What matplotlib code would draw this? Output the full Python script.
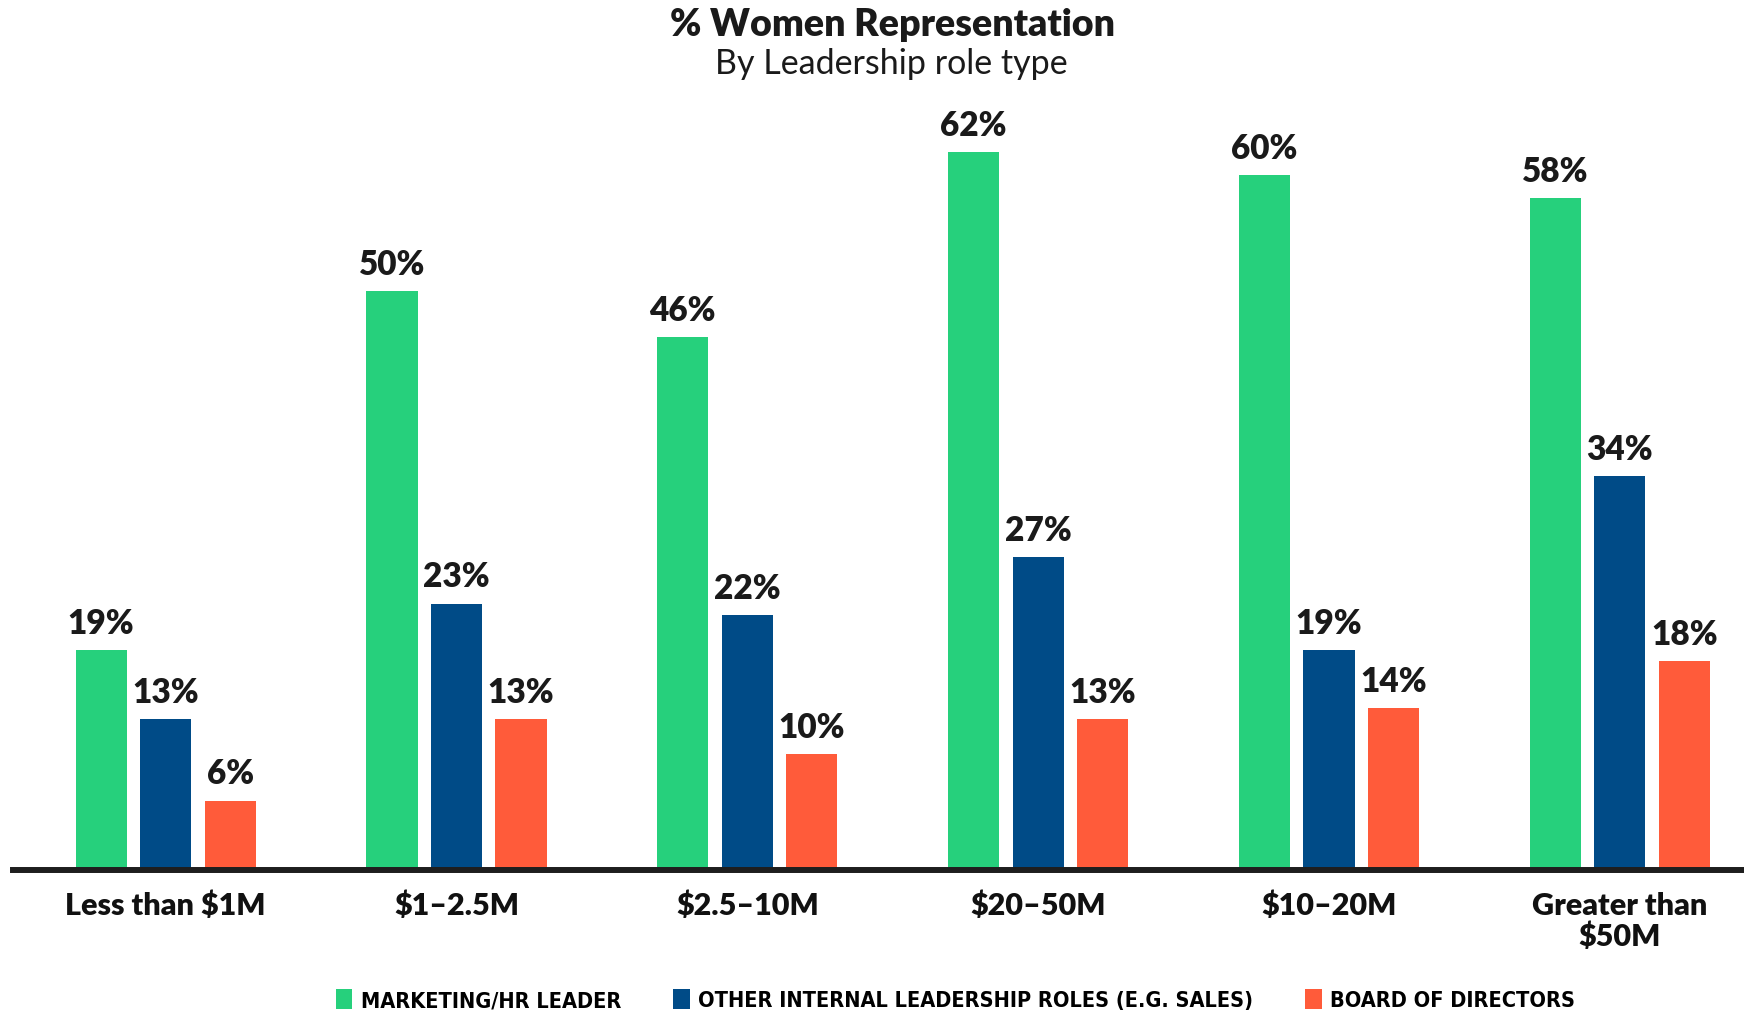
import numpy as np
import matplotlib
matplotlib.use('Agg')
import matplotlib.pyplot as plt

categories = ['Less than $1M', '$1\u20132.5M', '$2.5\u201310M', '$20\u201350M', '$10\u201320M', 'Greater than\n$50M']
series_names = ['MARKETING/HR LEADER', 'OTHER INTERNAL LEADERSHIP ROLES (E.G. SALES)', 'BOARD OF DIRECTORS']
marketing_hr = [19, 50, 46, 62, 60, 58]
other_internal = [13, 23, 22, 27, 19, 34]
board = [6, 13, 10, 13, 14, 18]

colors = ['#26D07C', '#004B87', '#FF5B3A']
main_font = ['Lato', 'DejaVu Sans']

fig = plt.figure(figsize=(17.44, 10.12), dpi=100)
ax = fig.add_axes([13 / 1744, 0.1393, 1 - 13 / 1744, 0.8014])

x = np.arange(len(categories))
pitch = 0.222
width = 0.176
bars = []
for i, (vals, col, name) in enumerate(zip([marketing_hr, other_internal, board], colors, series_names)):
    b = ax.bar(x + (i - 1) * pitch, vals, width, color=col, label=name, zorder=2)
    bars.append(b)
    for rect, v in zip(b, vals):
        ax.annotate('%d%%' % v, (rect.get_x() + rect.get_width() / 2, v),
                    xytext=(0, 8), textcoords='offset points', ha='center', va='bottom',
                    fontsize=24, fontweight='heavy', family=main_font, color='#1a1a1a')

ax.set_xlim(-0.525, 5.427)
ax.set_ylim(0, 70)
ax.set_yticks([])
ax.set_xticks(x)
ax.set_xticklabels(categories, fontsize=22, fontweight='heavy', family=main_font,
                   color='#111111', linespacing=1.1)
ax.tick_params(axis='x', length=0, pad=15)
for s in ['top', 'left', 'right']:
    ax.spines[s].set_visible(False)
ax.spines['bottom'].set_linewidth(4.3)
ax.spines['bottom'].set_color('#1e1e1e')
ax.spines['bottom'].set_zorder(3)

fig.text(0.5115, 0.975, '% Women Representation', ha='center', va='center',
         fontsize=27, fontweight='heavy', family=main_font, color='#1a1a1a')
fig.text(0.511, 0.9365, 'By Leadership role type', ha='center', va='center',
         fontsize=24.5, family=main_font, color='#1a1a1a')

leg = fig.legend(handles=bars, labels=series_names, ncol=3, loc='center',
                 bbox_to_anchor=(0.548, 0.011), frameon=False,
                 handlelength=0.75, handleheight=1.0, handletextpad=0.4,
                 columnspacing=2.4,
                 prop={'family': 'DejaVu Sans', 'weight': 'bold', 'stretch': 'condensed', 'size': 15.6})

fig.savefig('out.png', dpi=100)
